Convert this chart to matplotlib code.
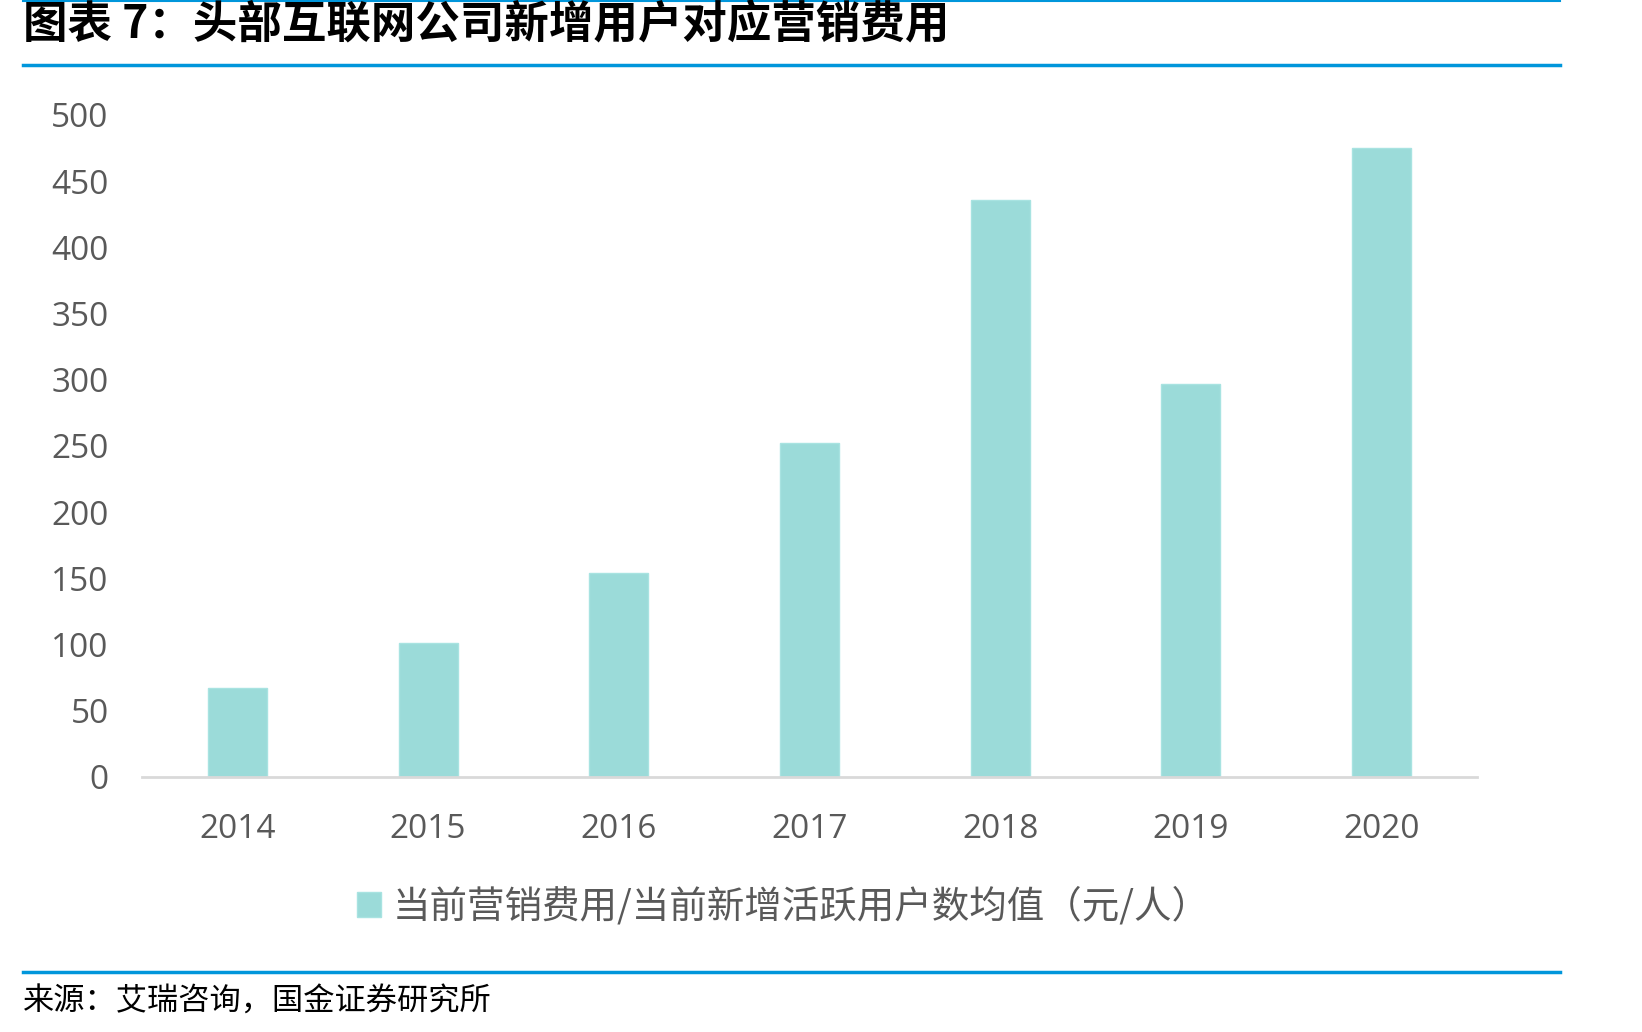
import matplotlib
matplotlib.use("Agg")
import matplotlib.pyplot as plt
from matplotlib.lines import Line2D

plt.rcParams['font.family'] = ['Noto Sans CJK SC', 'DejaVu Sans']

# 数据
years = ['2014', '2015', '2016', '2017', '2018', '2019', '2020']
cost_per_user = [67, 101, 154, 252, 436, 297, 475]
series_name = '当前营销费用/当前新增活跃用户数均值（元/人）'
y_ticks = [0, 50, 100, 150, 200, 250, 300, 350, 400, 450, 500]

title_text = '图表 7：头部互联网公司新增用户对应营销费用'
source_text = '来源：艾瑞咨询，国金证券研究所'

bar_color = '#9BDBD9'
text_gray = '#595959'
blue = '#0096DB'

fig = plt.figure(figsize=(16.42, 10.32), dpi=100)
ax = fig.add_axes([0.0865, 0.2471, 0.813, 0.6415])

x = range(len(years))
ax.bar(x, cost_per_user, width=0.31, color=bar_color, edgecolor='#A8E3E1',
       linewidth=1, label=series_name, zorder=2)

ax.set_xlim(-0.5, len(years) - 0.5)
ax.set_ylim(0, 500)
ax.set_yticks(y_ticks)
ax.set_yticklabels([str(v) for v in y_ticks], fontsize=24, color=text_gray,
                   family=['Open Sans', 'DejaVu Sans'])
ax.set_xticks(list(x))
ax.set_xticklabels(years, fontsize=24, color=text_gray,
                   family=['Open Sans', 'DejaVu Sans'])
ax.tick_params(axis='both', length=0)
ax.tick_params(axis='y', pad=24)
ax.tick_params(axis='x', pad=26)

for s in ['top', 'right', 'left']:
    ax.spines[s].set_visible(False)
ax.spines['bottom'].set_color('#D9D9D9')
ax.spines['bottom'].set_linewidth(2)

leg = ax.legend(loc='center', bbox_to_anchor=(0.477, 0.121),
                bbox_transform=fig.transFigure, frameon=False,
                fontsize=27, handlelength=0.65, handleheight=0.65,
                handletextpad=0.3)
for t in leg.get_texts():
    t.set_color(text_gray)

# 标题与分隔线
fig.text(23 / 1642, 1 - 26 / 1032, title_text, fontsize=32, fontweight='bold',
         style='italic', va='center', ha='left', color='black')
fig.add_artist(Line2D([23 / 1642, 1560 / 1642], [1 - 1 / 1032, 1 - 1 / 1032],
                      color=blue, linewidth=1.5))
fig.add_artist(Line2D([23 / 1642, 1560 / 1642], [1 - 65 / 1032, 1 - 65 / 1032],
                      color=blue, linewidth=2.5))
fig.add_artist(Line2D([23 / 1642, 1560 / 1642], [1 - 972 / 1032, 1 - 972 / 1032],
                      color=blue, linewidth=2.5))
fig.text(23 / 1642, 1 - 1002 / 1032, source_text, fontsize=22.5,
         va='center', ha='left', color='black')

fig.savefig('out.png', dpi=100)
